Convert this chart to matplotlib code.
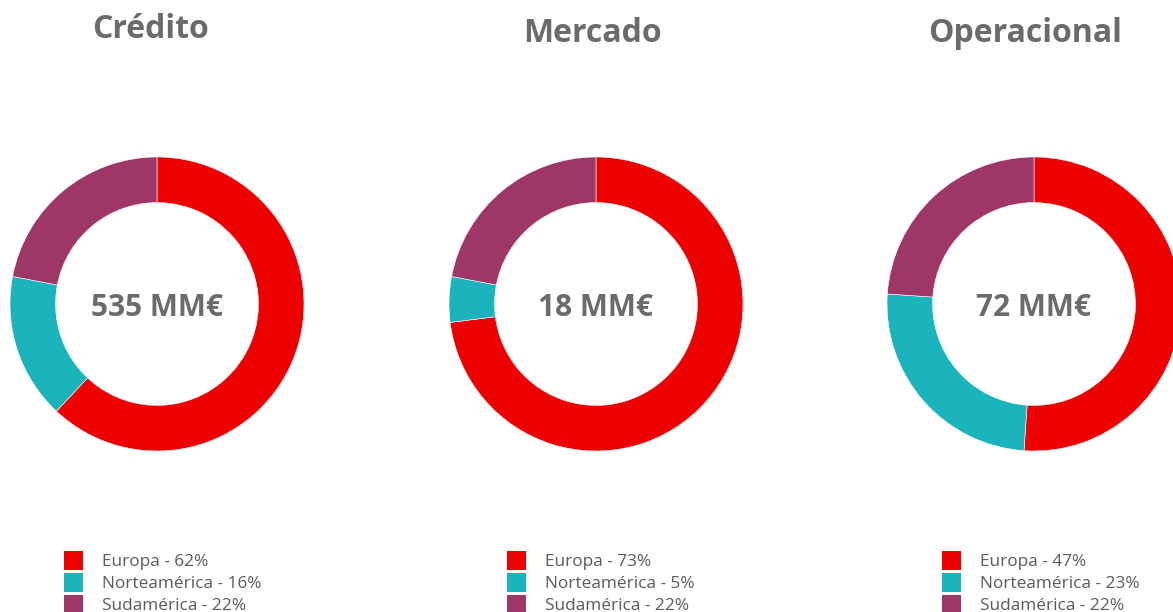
import matplotlib.pyplot as plt
from matplotlib.patches import Rectangle

plt.rcParams['font.family'] = ['Open Sans', 'DejaVu Sans']

titles = ['Crédito', 'Mercado', 'Operacional']
totals = ['535 MM€', '18 MM€', '72 MM€']
regions = ['Europa', 'Norteamérica', 'Sudamérica']
shares = [
    [62, 16, 22],
    [73, 5, 22],
    [47, 23, 22],
]
colors = ['#EC0000', '#1BB3BC', '#9E3667']

W, H = 1173, 612
fig = plt.figure(figsize=(W / 100, H / 100), dpi=100)

# donut centres (px) and layout
centres_x = [157, 596, 1034]
centre_y = 304
radius_px = 147
title_pos = [(150, 30), (592, 33), (1025, 33)]
legend_x = [64, 507, 942]
legend_y = [560, 582, 604]
grey = '#6b6b6b'

for i, title in enumerate(titles):
    cx = centres_x[i]
    ax = fig.add_axes([(cx - radius_px) / W, (H - centre_y - radius_px) / H,
                       2 * radius_px / W, 2 * radius_px / H])
    ax.pie(shares[i], colors=colors, startangle=90, counterclock=False,
           radius=1, wedgeprops=dict(width=0.31, edgecolor='white', linewidth=0.4))
    ax.set_xlim(-1, 1)
    ax.set_ylim(-1, 1)
    ax.set_aspect('equal')
    ax.axis('off')
    ax.text(0, -0.025, totals[i], ha='center', va='center', fontsize=21.5,
            fontweight='bold', color=grey)

    tx, ty = title_pos[i]
    fig.text(tx / W, 1 - ty / H, title, ha='center', va='center',
             fontsize=23, fontweight='bold', color=grey)

    for j, reg in enumerate(regions):
        ly = legend_y[j]
        fig.add_artist(Rectangle((legend_x[i] / W, 1 - (ly + 9.5) / H), 19 / W, 19 / H,
                                 transform=fig.transFigure, color=colors[j], lw=0))
        fig.text((legend_x[i] + 38) / W, 1 - (ly + 2) / H, f'{reg} - {shares[i][j]}%',
                 ha='left', va='center', fontsize=12.4, color='#5a5a5a')

fig.savefig('out.png', dpi=100)
